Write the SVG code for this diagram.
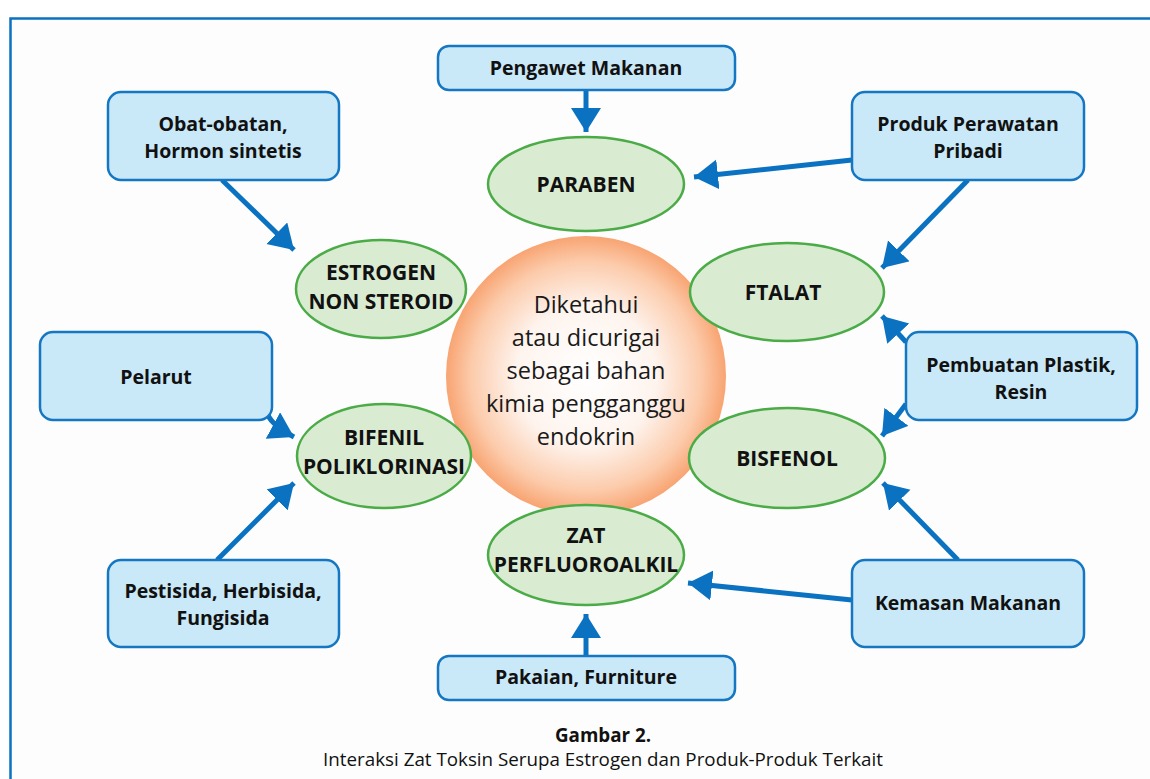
<svg xmlns="http://www.w3.org/2000/svg" width="1150" height="779" viewBox="0 0 1150 779">
<defs>
<style>
.box{fill:#c9e8f8;stroke:#1577c2;stroke-width:2.5}
.ell{fill:#d9ebd1;stroke:#4aab47;stroke-width:2.5}
.bt{font-family:"Open Sans","Liberation Sans",sans-serif;font-weight:bold;font-size:19.5px;fill:#111;text-anchor:middle}
.et{font-family:"Open Sans","Liberation Sans",sans-serif;font-weight:bold;font-size:21px;fill:#111;text-anchor:middle}
.ct{font-family:"Open Sans","Liberation Sans",sans-serif;font-size:23.5px;fill:#1a1a1a;text-anchor:middle}
.cap{font-family:"Open Sans","Liberation Sans",sans-serif;font-size:18.8px;fill:#111;text-anchor:middle}
.ar{stroke:#0a72c0;stroke-width:5;fill:none;marker-end:url(#ah)}
</style>
<marker id="ah" markerUnits="userSpaceOnUse" markerWidth="30" markerHeight="32" refX="24" refY="15" orient="auto">
<path d="M0,0 L24,15 L0,30 z" fill="#0a72c0"/>
</marker>
<radialGradient id="cg" cx="0.5" cy="0.5" r="0.5">
<stop offset="0" stop-color="#ffffff"/>
<stop offset="0.5" stop-color="#fef4ee"/>
<stop offset="0.82" stop-color="#fccbab"/>
<stop offset="1" stop-color="#f8a472"/>
</radialGradient>
</defs>
<rect x="0" y="0" width="1150" height="779" fill="#ffffff"/>
<rect x="10.5" y="18.5" width="1150" height="780" fill="#fdfdfd" stroke="#0a72c0" stroke-width="2.5"/>

<g id="center">
<circle cx="586" cy="376" r="140" fill="url(#cg)"/>
<text class="ct" x="586" y="313">Diketahui</text>
<text class="ct" x="586" y="346">atau dicurigai</text>
<text class="ct" x="586" y="379">sebagai bahan</text>
<text class="ct" x="586" y="412">kimia pengganggu</text>
<text class="ct" x="586" y="445">endokrin</text>
</g>

<g id="connectors">
<line class="ar" x1="586" y1="90" x2="586" y2="132"/>
<line class="ar" x1="852" y1="160" x2="694" y2="177"/>
<line class="ar" x1="968" y1="180" x2="882" y2="268"/>
<line class="ar" x1="222" y1="180" x2="294" y2="250"/>
<line class="ar" x1="906" y1="342" x2="882" y2="316"/>
<line class="ar" x1="906" y1="404" x2="882" y2="436"/>
<path class="ar" d="M268,415 Q272,425 294,437"/>
<line class="ar" x1="217" y1="560" x2="294" y2="483"/>
<line class="ar" x1="958" y1="560" x2="883" y2="483"/>
<line class="ar" x1="852" y1="600" x2="688" y2="583"/>
<line class="ar" x1="586" y1="656" x2="586" y2="614"/>
</g>

<g id="paraben"><ellipse class="ell" cx="586" cy="184" rx="98" ry="47"/><text class="et" x="586" y="192">PARABEN</text></g>
<g id="estrogen"><ellipse class="ell" cx="381" cy="289" rx="85" ry="49"/><text class="et" x="381" y="279.5">ESTROGEN</text><text class="et" x="381" y="308.5">NON STEROID</text></g>
<g id="ftalat"><ellipse class="ell" cx="787" cy="292" rx="97" ry="49"/><text class="et" x="783" y="300">FTALAT</text></g>
<g id="bifenil"><ellipse class="ell" cx="384" cy="456" rx="87" ry="52"/><text class="et" x="384" y="445">BIFENIL</text><text class="et" x="384" y="474">POLIKLORINASI</text></g>
<g id="bisfenol"><ellipse class="ell" cx="787" cy="458" rx="98" ry="50"/><text class="et" x="787" y="466">BISFENOL</text></g>
<g id="zat"><ellipse class="ell" cx="586" cy="555" rx="98" ry="50"/><text class="et" x="586" y="542.5">ZAT</text><text class="et" x="586" y="571.5">PERFLUOROALKIL</text></g>

<g id="pengawet"><rect class="box" x="438" y="46" width="297" height="44" rx="11"/><text class="bt" x="586" y="75">Pengawet Makanan</text></g>
<g id="obat"><rect class="box" x="108" y="92" width="231" height="88" rx="13"/><text class="bt" x="223" y="130.5">Obat-obatan,</text><text class="bt" x="223" y="157.5">Hormon sintetis</text></g>
<g id="produk"><rect class="box" x="852" y="92" width="232" height="88" rx="13"/><text class="bt" x="968" y="130.5">Produk Perawatan</text><text class="bt" x="968" y="157.5">Pribadi</text></g>
<g id="pelarut"><rect class="box" x="40" y="332" width="232" height="88" rx="13"/><text class="bt" x="156" y="384">Pelarut</text></g>
<g id="pembuatan"><rect class="box" x="906" y="332" width="231" height="88" rx="13"/><text class="bt" x="1021" y="371.5">Pembuatan Plastik,</text><text class="bt" x="1021" y="398.5">Resin</text></g>
<g id="pestisida"><rect class="box" x="108" y="560" width="231" height="87" rx="13"/><text class="bt" x="223" y="597.5">Pestisida, Herbisida,</text><text class="bt" x="223" y="624.5">Fungisida</text></g>
<g id="kemasan"><rect class="box" x="852" y="560" width="232" height="87" rx="13"/><text class="bt" x="968" y="610">Kemasan Makanan</text></g>
<g id="pakaian"><rect class="box" x="438" y="656" width="297" height="44" rx="11"/><text class="bt" x="586" y="684">Pakaian, Furniture</text></g>

<g id="caption">
<text class="cap" x="603" y="742" font-weight="bold">Gambar 2.</text>
<text class="cap" x="603" y="766">Interaksi Zat Toksin Serupa Estrogen dan Produk-Produk Terkait</text>
</g>
</svg>
